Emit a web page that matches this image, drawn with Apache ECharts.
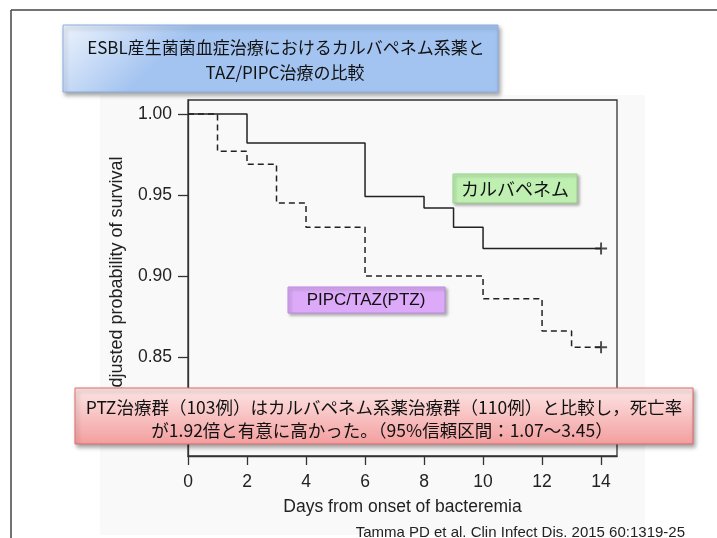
<!DOCTYPE html>
<html>
<head>
<meta charset="utf-8">
<script src="https://cdn.jsdelivr.net/npm/echarts@6/dist/echarts.min.js"></script>
<style>
  html, body { margin: 0; padding: 0; background: #fff; }
  #chart { width: 717px; height: 538px; }
</style>
</head>
<body>
<div id="chart"></div>
<script>
// Kaplan-Meier curves
const carbaDays = [0, 2, 6, 8, 9, 10, 14];
const carbaSurv = [1.0, 0.982, 0.949, 0.942, 0.930, 0.917, 0.917];
const ptzDays = [0, 1, 2, 3, 4, 6, 10, 12, 13, 14];
const ptzSurv = [1.0, 0.977, 0.969, 0.945, 0.930, 0.900, 0.886, 0.866, 0.856, 0.856];
const censorDay = 14;

const xTicks = [0, 2, 4, 6, 8, 10, 12, 14];
const yTicks = [0.80, 0.85, 0.90, 0.95, 1.00];

const titleLines = ['ESBL産生菌菌血症治療におけるカルバペネム系薬と', 'TAZ/PIPC治療の比較'];
const carbaLabel = 'カルバペネム';
const ptzLabel = 'PIPC/TAZ(PTZ)';
const noteLines = [
    'PTZ治療群（103例）はカルバペネム系薬治療群（110例）と比較し，死亡率',
    'が1.92倍と有意に高かった。（95%信頼区間：1.07〜3.45）'
];
const citation = 'Tamma PD et al. Clin Infect Dis. 2015 60:1319-25';

function pairs(xs, ys) {
    let result = [];
    for (let i = 0; i < xs.length; i++) {
        result.push([xs[i], ys[i]]);
    }
    return result;
}

const jp = '"Noto Sans CJK JP", sans-serif';
const lat = '"Liberation Sans", Arial, sans-serif';
const plus = 'path://M4.2,0H5.8V4.2H10V5.8H5.8V10H4.2V5.8H0V4.2H4.2Z';

let myChart = echarts.init(document.getElementById('chart'), null, {renderer: 'canvas'});

let option = {
    animation: false,
    backgroundColor: '#fff',
    grid: {
        left: 188, top: 100, right: 100, bottom: 82,
        show: true, borderColor: '#333', borderWidth: 1.3,
        backgroundColor: 'transparent'
    },
    xAxis: {
        type: 'value',
        min: 0, max: 14.54,
        name: 'Days from onset of bacteremia',
        nameLocation: 'middle', nameGap: 42,
        nameTextStyle: {fontFamily: lat, fontSize: 17.5, color: '#222'},
        splitLine: {show: false},
        axisLine: {show: true, lineStyle: {color: '#333', width: 1.3}},
        axisTick: {show: true, length: 9, customValues: xTicks, lineStyle: {color: '#333', width: 1.3}},
        axisLabel: {customValues: xTicks, margin: 17, fontFamily: lat, fontSize: 17.5, color: '#222'}
    },
    yAxis: {
        type: 'value',
        min: 0.7889, max: 1.0086,
        name: 'Adjusted probability of survival',
        nameLocation: 'middle', nameGap: 62,
        nameTextStyle: {fontFamily: lat, fontSize: 18, color: '#222'},
        splitLine: {show: false},
        axisLine: {show: true, lineStyle: {color: '#333', width: 1.3}},
        axisTick: {show: true, length: 10, customValues: yTicks, lineStyle: {color: '#333', width: 1.3}},
        axisLabel: {
            customValues: yTicks, margin: 16, fontFamily: lat, fontSize: 17.5, color: '#222',
            formatter: (v) => v.toFixed(2)
        }
    },
    series: [
        {
            type: 'line', step: 'end', symbol: 'none',
            data: pairs(carbaDays, carbaSurv),
            lineStyle: {color: '#222', width: 1.5}
        },
        {
            type: 'line', step: 'end', symbol: 'none',
            data: pairs(ptzDays, ptzSurv),
            lineStyle: {color: '#222', width: 1.5, type: [6, 4]}
        },
        {
            type: 'scatter', symbol: plus, symbolSize: 12,
            data: [[censorDay, carbaSurv[carbaSurv.length - 1]], [censorDay, ptzSurv[ptzSurv.length - 1]]],
            itemStyle: {color: '#222'}
        }
    ],
    graphic: [
        // faint scanned-figure background
        {type: 'rect', z: -10, shape: {x: 100, y: 95, width: 545, height: 440}, style: {fill: '#f9f9f9'}},
        // slide frame
        {type: 'line', z: 50, shape: {x1: 11, y1: 10, x2: 717, y2: 10}, style: {stroke: '#444', lineWidth: 1.5}},
        {type: 'line', z: 50, shape: {x1: 11, y1: 10, x2: 11, y2: 538}, style: {stroke: '#444', lineWidth: 1.5}},
        // title box
        {
            type: 'rect', z: 100,
            shape: {x: 63, y: 25, width: 435, height: 67},
            style: {
                fill: new echarts.graphic.LinearGradient(0, 0, 0.15, 1, [
                    {offset: 0, color: '#edf4fd'}, {offset: 1, color: '#a3c3f0'}
                ]),
                stroke: '#8aaee2', lineWidth: 1,
                shadowBlur: 4, shadowOffsetX: 2, shadowOffsetY: 3, shadowColor: 'rgba(0,0,0,0.35)'
            }
        },
        {type: 'text', z: 101, style: {text: titleLines[0], x: 286, y: 48, align: 'center', verticalAlign: 'middle', font: '17px ' + jp, fill: '#111'}},
        {type: 'text', z: 101, style: {text: titleLines[1], x: 285, y: 73, align: 'center', verticalAlign: 'middle', font: '17px ' + jp, fill: '#111'}},
        // carbapenem label
        {
            type: 'rect', z: 100,
            shape: {x: 453, y: 174, width: 124, height: 29},
            style: {fill: '#bff0b2', stroke: '#9ad08c', lineWidth: 1, shadowBlur: 3, shadowOffsetX: 2, shadowOffsetY: 2, shadowColor: 'rgba(0,0,0,0.3)'}
        },
        {type: 'text', z: 101, style: {text: carbaLabel, x: 515, y: 189, align: 'center', verticalAlign: 'middle', font: '18px ' + jp, fill: '#111'}},
        // PTZ label
        {
            type: 'rect', z: 100,
            shape: {x: 288, y: 287, width: 157, height: 26},
            style: {fill: '#dcaaf8', stroke: '#c08ae0', lineWidth: 1, shadowBlur: 3, shadowOffsetX: 2, shadowOffsetY: 2, shadowColor: 'rgba(0,0,0,0.3)'}
        },
        {type: 'text', z: 101, style: {text: ptzLabel, x: 366, y: 300, align: 'center', verticalAlign: 'middle', font: '17px ' + lat, fill: '#111'}},
        // red note box
        {
            type: 'rect', z: 100,
            shape: {x: 75, y: 388, width: 618, height: 56},
            style: {
                fill: new echarts.graphic.LinearGradient(0, 0, 0, 1, [
                    {offset: 0, color: '#fde6e6'}, {offset: 1, color: '#f39e9e'}
                ]),
                stroke: '#e06a6a', lineWidth: 1,
                shadowBlur: 4, shadowOffsetX: 2, shadowOffsetY: 3, shadowColor: 'rgba(0,0,0,0.35)'
            }
        },
        {type: 'text', z: 101, style: {text: noteLines[0], x: 384, y: 407, align: 'center', verticalAlign: 'middle', font: '17.5px ' + jp, fill: '#111'}},
        {type: 'text', z: 101, style: {text: noteLines[1], x: 382, y: 430, align: 'center', verticalAlign: 'middle', font: '17.5px ' + jp, fill: '#111'}},
        // citation
        {type: 'text', z: 101, style: {text: citation, x: 685, y: 533, align: 'right', verticalAlign: 'middle', font: '15px ' + lat, fill: '#222'}}
    ]
};

myChart.setOption(option);
</script>
</body>
</html>
